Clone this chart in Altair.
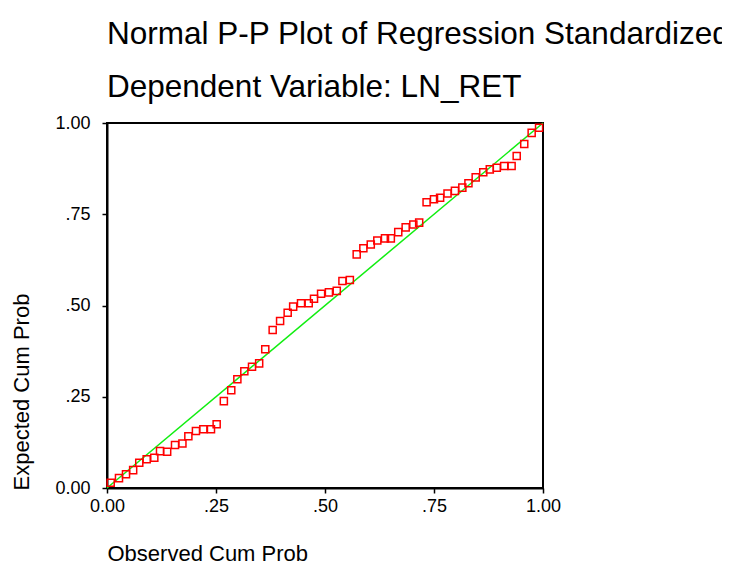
import altair as alt
import pandas as pd

# Observed cumulative probability (x) and expected cumulative probability (y)
observed = [0.0085, 0.0275, 0.0436, 0.060, 0.074, 0.091, 0.1085, 0.1216, 0.138, 0.156,
            0.173, 0.1866, 0.204, 0.221, 0.2385, 0.2515, 0.268, 0.285, 0.299, 0.315,
            0.3326, 0.349, 0.363, 0.380, 0.397, 0.4144, 0.427, 0.445, 0.4626, 0.4748,
            0.491, 0.509, 0.527, 0.540, 0.557, 0.5727, 0.588, 0.605, 0.620, 0.6376,
            0.651, 0.668, 0.685, 0.7026, 0.716, 0.733, 0.750, 0.764, 0.781, 0.798,
            0.815, 0.829, 0.8456, 0.863, 0.878, 0.894, 0.911, 0.928, 0.9397, 0.957,
            0.974, 0.991]
expected = [0.0145, 0.027, 0.0375, 0.049, 0.069, 0.079, 0.083, 0.101, 0.0995, 0.118,
            0.122, 0.142, 0.156, 0.161, 0.161, 0.1745, 0.238, 0.268, 0.298, 0.320,
            0.332, 0.3415, 0.380, 0.433, 0.4575, 0.480, 0.497, 0.506, 0.506, 0.5187,
            0.532, 0.536, 0.540, 0.567, 0.570, 0.640, 0.657, 0.667, 0.678, 0.684,
            0.684, 0.701, 0.714, 0.722, 0.727, 0.783, 0.791, 0.795, 0.807, 0.814,
            0.823, 0.835, 0.851, 0.865, 0.873, 0.8775, 0.882, 0.882, 0.9096, 0.9425,
            0.973, 0.987]
diag_x = [0.0, 1.0]
diag_y = [0.0, 1.0]
tick_values = [0.0, 0.25, 0.5, 0.75, 1.0]
tick_labels = ["0.00", ".25", ".50", ".75", "1.00"]

pts = pd.DataFrame({"obs": observed, "exp": expected})
diag = pd.DataFrame({"obs": diag_x, "exp": diag_y})

label_expr = " : ".join(
    f"datum.value == {v} ? '{l}'" for v, l in zip(tick_values, tick_labels)
) + " : ''"

FONT = "Liberation Sans"
scale = alt.Scale(domain=[0, 1], nice=False, zero=False, padding=0)

common_axis = dict(
    values=tick_values,
    labelExpr=label_expr,
    labelFont=FONT,
    labelFontSize=18,
    labelColor="black",
    labelFlush=False,
    labelOverlap=False,
    tickColor="black",
    tickSize=5,
    tickWidth=1.5,
    domainColor="black",
    domainWidth=2,
    grid=False,
    titleFont=FONT,
    titleFontSize=22,
    titleFontWeight="normal",
    titleColor="black",
    titleBaseline="alphabetic",
    titleAlign="left",
)

x_axis = alt.Axis(title="Observed Cum Prob", labelPadding=4, titleX=0, titleY=72,
                  titleAngle=0, **common_axis)
y_axis = alt.Axis(title="Expected Cum Prob", labelPadding=12, titleX=-79, titleY=367,
                  titleAngle=270, **common_axis)

line = alt.Chart(diag).mark_line(color="#11ee11", strokeWidth=1.5).encode(
    x=alt.X("obs:Q", scale=scale, axis=x_axis),
    y=alt.Y("exp:Q", scale=scale, axis=y_axis),
)

points = alt.Chart(pts).mark_point(
    shape="square", filled=False, color="#ff0000", size=50, strokeWidth=1.5, opacity=1
).encode(
    x=alt.X("obs:Q", scale=scale),
    y=alt.Y("exp:Q", scale=scale),
)

chart = alt.layer(line, points).properties(
    width=436,
    height=365,
    padding={"left": 99, "top": 115, "right": 179, "bottom": 77},
    autosize=alt.AutoSizeParams(type="none"),
    title=alt.TitleParams(
        text="Normal P-P Plot of Regression Standardized Residual",
        subtitle="Dependent Variable: LN_RET",
        anchor="start",
        frame="group",
        font=FONT,
        subtitleFont=FONT,
        fontSize=31.5,
        subtitleFontSize=31.5,
        fontWeight="normal",
        subtitleFontWeight="normal",
        color="black",
        subtitleColor="black",
        offset=11,
        subtitlePadding=21,
    ),
).configure_view(stroke="black", strokeWidth=2)

chart.save("out.html", embed_options={"renderer": "svg", "actions": False})
